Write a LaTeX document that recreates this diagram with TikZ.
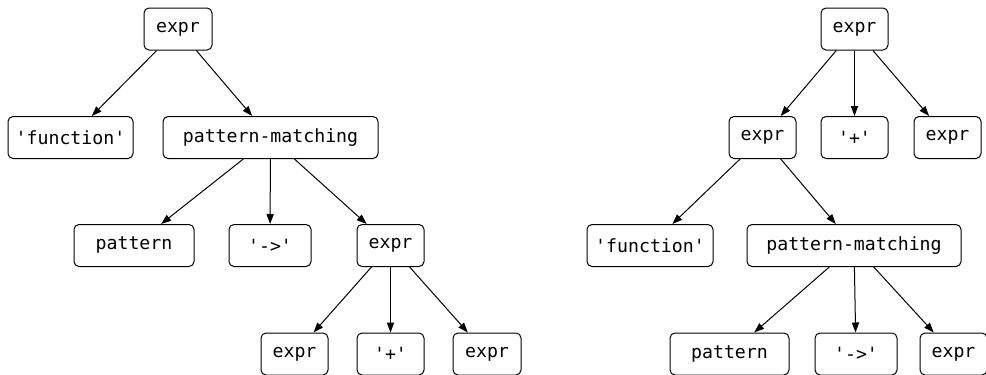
\documentclass[tikz,border=0pt]{standalone}
\usepackage{fontspec}
\setmonofont{DejaVu Sans Mono}
\usetikzlibrary{arrows.meta}
\tikzset{
  tok/.style={draw=black, line width=0.5pt, rounded corners=2.5pt, inner sep=0pt,
    minimum height=21pt, minimum width=#1, font=\ttfamily\fontsize{9.1}{11}\selectfont},
  branch/.style={-{Triangle[length=5pt,width=3.6pt]}, line width=0.5pt, draw=black},
}

\begin{document}
\begin{tikzpicture}[x=0.5pt,y=-0.5pt]
\useasboundingbox (0,0) rectangle (986,375);
% left tree
\node[tok=34pt] (lroot) at (178,29) {expr};
\node[tok=62.5pt] (lfun) at (70.5,137.5) {'function'};
\node[tok=107.5pt] (lpm) at (270.5,137.5) {pattern-matching};
\node[tok=60pt] (lpat) at (134,245.5) {pattern};
\node[tok=41pt] (larr) at (270,245.5) {'->'};
\node[tok=33.5pt] (lexpr) at (390.5,245.5) {expr};
\node[tok=33.5pt] (lexa) at (294.5,354) {expr};
\node[tok=33.5pt] (lplus) at (390.5,354) {'+'};
\node[tok=34pt] (lexb) at (487,354) {expr};
\draw[branch] (lroot) -- (lfun);
\draw[branch] (lroot) -- (lpm);
\draw[branch] (lpm) -- (lpat);
\draw[branch] (lpm) -- (larr);
\draw[branch] (lpm) -- (lexpr);
\draw[branch] (lexpr) -- (lexa);
\draw[branch] (lexpr) -- (lplus);
\draw[branch] (lexpr) -- (lexb);
% right tree
\node[tok=33.5pt] (rroot) at (854.5,29) {expr};
\node[tok=33.5pt] (rexpr) at (762.5,137.5) {expr};
\node[tok=33.5pt] (rplus) at (854.5,137.5) {'+'};
\node[tok=33.5pt] (rexb) at (947.5,137.5) {expr};
\node[tok=63pt] (rfun) at (650,245.5) {'function'};
\node[tok=107pt] (rpm) at (854,245.5) {pattern-matching};
\node[tok=59.5pt] (rpat) at (729.5,354) {pattern};
\node[tok=41pt] (rarr) at (856,354) {'->'};
\node[tok=33.5pt] (rexa) at (953.5,354) {expr};
\draw[branch] (rroot) -- (rexpr);
\draw[branch] (rroot) -- (rplus);
\draw[branch] (rroot) -- (rexb);
\draw[branch] (rexpr) -- (rfun);
\draw[branch] (rexpr) -- (rpm);
\draw[branch] (rpm) -- (rpat);
\draw[branch] (rpm) -- (rarr);
\draw[branch] (rpm) -- (rexa);
\end{tikzpicture}
\end{document}
